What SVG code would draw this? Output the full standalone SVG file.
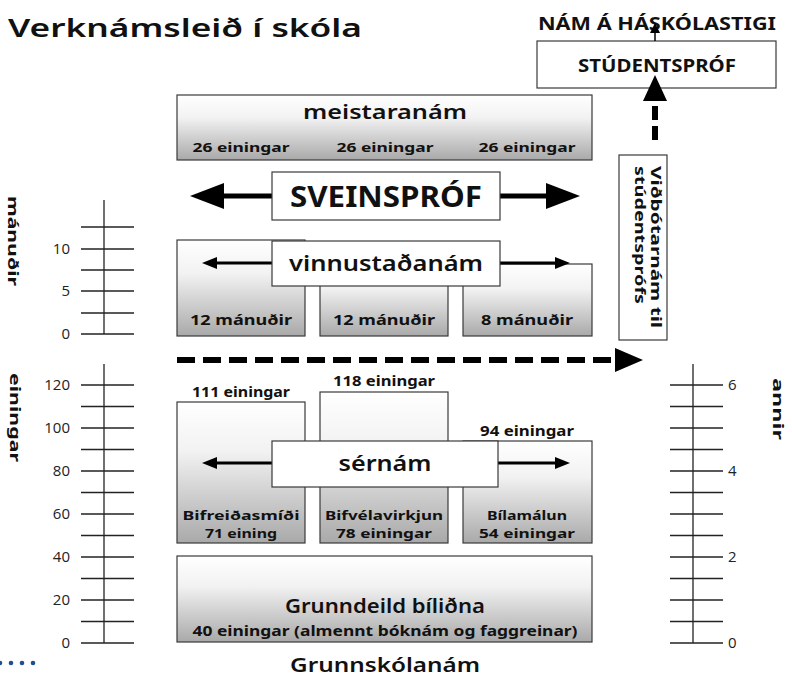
<svg xmlns="http://www.w3.org/2000/svg" width="792" height="677" viewBox="0 0 792 677">
<defs>
<linearGradient id="g" x1="0" y1="0" x2="0" y2="1">
<stop offset="0" stop-color="#ffffff"/>
<stop offset="0.35" stop-color="#f2f2f2"/>
<stop offset="1" stop-color="#a9a9a9"/>
</linearGradient>
<style>
.box{fill:url(#g);stroke:#3a3a3a;stroke-width:1.2}
.lbl{fill:#fff;stroke:#3a3a3a;stroke-width:1.2}
.t{font-family:"Noto Sans","DejaVu Sans",sans-serif;fill:#111}
.b{font-weight:bold}
.c{text-anchor:middle}
.num{font-family:"Open Sans","DejaVu Sans",sans-serif;font-size:15px;fill:#222;text-anchor:end}
.ax{stroke:#222;stroke-width:1.3;fill:none}
.tk{stroke:#222;stroke-width:1.3}
</style>
</defs>
<rect width="792" height="677" fill="#fff"/>

<text class="t" x="8" y="37" font-size="26" font-weight="600" textLength="354" lengthAdjust="spacingAndGlyphs">Verknámsleið í skóla</text>

<g id="haskoli"><text class="t b c" x="657" y="30" font-size="17" textLength="238" lengthAdjust="spacingAndGlyphs">NÁM Á HÁSKÓLASTIGI</text></g>

<g id="studentsprof">
<rect class="lbl" x="537" y="41" width="239" height="47"/>
<text class="t b c" x="657" y="72" font-size="18" textLength="158" lengthAdjust="spacingAndGlyphs">STÚDENTSPRÓF</text>
</g>

<g id="meistaranam">
<rect class="box" x="177" y="95" width="415" height="65"/>
<text class="t c" x="385" y="119" font-size="20" font-weight="600" textLength="164" lengthAdjust="spacingAndGlyphs">meistaranám</text>
<text class="t b c" x="241" y="152" font-size="13" textLength="97" lengthAdjust="spacingAndGlyphs">26 einingar</text>
<text class="t b c" x="385" y="152" font-size="13" textLength="97" lengthAdjust="spacingAndGlyphs">26 einingar</text>
<text class="t b c" x="527" y="152" font-size="13" textLength="97" lengthAdjust="spacingAndGlyphs">26 einingar</text>
</g>

<g id="vinnustadanam-boxes">
<rect class="box" x="177" y="240" width="128" height="96"/>
<rect class="box" x="320" y="262" width="128" height="74"/>
<rect class="box" x="463" y="264" width="129" height="72"/>
<text class="t b c" x="241" y="325" font-size="14" textLength="102" lengthAdjust="spacingAndGlyphs">12 mánuðir</text>
<text class="t b c" x="384" y="325" font-size="14" textLength="102" lengthAdjust="spacingAndGlyphs">12 mánuðir</text>
<text class="t b c" x="527" y="325" font-size="14" textLength="92" lengthAdjust="spacingAndGlyphs">8 mánuðir</text>
</g>

<g id="sernam-boxes">
<rect class="box" x="177" y="402" width="128" height="141"/>
<rect class="box" x="320" y="392" width="128" height="151"/>
<rect class="box" x="463" y="441" width="129" height="102"/>
<text class="t b c" x="241" y="397" font-size="14" textLength="98" lengthAdjust="spacingAndGlyphs">111 einingar</text>
<text class="t b c" x="384" y="386" font-size="14" textLength="102" lengthAdjust="spacingAndGlyphs">118 einingar</text>
<text class="t b c" x="527" y="436" font-size="14" textLength="94" lengthAdjust="spacingAndGlyphs">94 einingar</text>
<text class="t b c" x="241" y="520" font-size="13" textLength="117" lengthAdjust="spacingAndGlyphs">Bifreiðasmíði</text>
<text class="t b c" x="241" y="538" font-size="13" textLength="72" lengthAdjust="spacingAndGlyphs">71 eining</text>
<text class="t b c" x="384" y="520" font-size="13" textLength="118" lengthAdjust="spacingAndGlyphs">Bifvélavirkjun</text>
<text class="t b c" x="384" y="538" font-size="13" textLength="96" lengthAdjust="spacingAndGlyphs">78 einingar</text>
<text class="t b c" x="527" y="520" font-size="13" textLength="80" lengthAdjust="spacingAndGlyphs">Bílamálun</text>
<text class="t b c" x="527" y="538" font-size="13" textLength="96" lengthAdjust="spacingAndGlyphs">54 einingar</text>
</g>

<g id="grunndeild">
<rect class="box" x="177" y="556" width="415" height="86"/>
<text class="t c" x="385" y="613" font-size="19" font-weight="600" textLength="200" lengthAdjust="spacingAndGlyphs">Grunndeild bíliðna</text>
<text class="t b c" x="385" y="636" font-size="14" textLength="385" lengthAdjust="spacingAndGlyphs">40 einingar (almennt bóknám og faggreinar)</text>
</g>

<g id="grunnskolanam"><text class="t c" x="385" y="672" font-size="20" font-weight="600" textLength="190" lengthAdjust="spacingAndGlyphs">Grunnskólanám</text></g>

<g id="connectors">
<line x1="272" y1="196" x2="218" y2="196" stroke="#000" stroke-width="5"/>
<polygon points="190,196 224,183 224,209" fill="#000"/>
<line x1="500" y1="196" x2="552" y2="196" stroke="#000" stroke-width="5"/>
<polygon points="580,196 546,183 546,209" fill="#000"/>
<line x1="272" y1="263" x2="212" y2="263" stroke="#000" stroke-width="3"/>
<polygon points="202,263 217,257 217,269" fill="#000"/>
<line x1="500" y1="263" x2="560" y2="263" stroke="#000" stroke-width="3"/>
<polygon points="570,263 555,257 555,269" fill="#000"/>
<line x1="272" y1="463" x2="212" y2="463" stroke="#000" stroke-width="3"/>
<polygon points="202,463 217,457 217,469" fill="#000"/>
<line x1="498" y1="463" x2="560" y2="463" stroke="#000" stroke-width="3"/>
<polygon points="570,463 555,457 555,469" fill="#000"/>
<line x1="177" y1="360" x2="617" y2="360" stroke="#000" stroke-width="6" stroke-dasharray="18,8"/>
<polygon points="643,360 615,348 615,372" fill="#000"/>
<line x1="655" y1="140" x2="655" y2="100" stroke="#000" stroke-width="6" stroke-dasharray="14,6"/>
<polygon points="655,75 643,101 667,101" fill="#000"/>
<line x1="655" y1="41" x2="655" y2="30" stroke="#000" stroke-width="1.5"/>
<polygon points="655,23 650,33 660,33" fill="#000"/>
</g>

<g id="sveinsprof">
<rect class="lbl" x="272" y="172" width="228" height="48"/>
<text class="t b c" x="386" y="207" font-size="28" textLength="192" lengthAdjust="spacingAndGlyphs">SVEINSPRÓF</text>
</g>

<g id="vinnustadanam">
<rect class="lbl" x="272" y="241" width="228" height="45"/>
<text class="t c" x="386" y="271" font-size="22" font-weight="600" textLength="194" lengthAdjust="spacingAndGlyphs">vinnustaðanám</text>
</g>

<g id="sernam">
<rect class="lbl" x="272" y="441" width="226" height="46"/>
<text class="t c" x="385" y="471" font-size="22" font-weight="600" textLength="93" lengthAdjust="spacingAndGlyphs">sérnám</text>
</g>

<g id="vidbotarnam">
<rect class="lbl" x="619" y="155" width="48" height="185"/>
<text class="t b" transform="translate(651,166) rotate(90)" font-size="14" textLength="162" lengthAdjust="spacingAndGlyphs">Viðbótarnám til</text>
<text class="t b" transform="translate(635,166) rotate(90)" font-size="14" textLength="138" lengthAdjust="spacingAndGlyphs">stúdentsprófs</text>
</g>

<g id="axis-manudir">
<line class="ax" x1="104" y1="200" x2="104" y2="334"/>
<g class="tk">
<line x1="81" y1="227" x2="134" y2="227"/>
<line x1="81" y1="249" x2="134" y2="249"/>
<line x1="81" y1="270" x2="134" y2="270"/>
<line x1="81" y1="291" x2="134" y2="291"/>
<line x1="81" y1="313" x2="134" y2="313"/>
<line x1="81" y1="334" x2="134" y2="334"/>
</g>
<text class="num" x="70" y="254">10</text>
<text class="num" x="70" y="296">5</text>
<text class="num" x="70" y="339">0</text>
<text class="t b" transform="translate(8,196) rotate(90)" font-size="15" textLength="90" lengthAdjust="spacingAndGlyphs">mánuðir</text>
</g>

<g id="axis-einingar">
<line class="ax" x1="104" y1="364" x2="104" y2="643"/>
<g class="tk">
<line x1="81" y1="385" x2="134" y2="385"/>
<line x1="81" y1="406.5" x2="134" y2="406.5"/>
<line x1="81" y1="428" x2="134" y2="428"/>
<line x1="81" y1="449.5" x2="134" y2="449.5"/>
<line x1="81" y1="471" x2="134" y2="471"/>
<line x1="81" y1="492.5" x2="134" y2="492.5"/>
<line x1="81" y1="514" x2="134" y2="514"/>
<line x1="81" y1="535.5" x2="134" y2="535.5"/>
<line x1="81" y1="557" x2="134" y2="557"/>
<line x1="81" y1="578.5" x2="134" y2="578.5"/>
<line x1="81" y1="600" x2="134" y2="600"/>
<line x1="81" y1="621.5" x2="134" y2="621.5"/>
<line x1="81" y1="643" x2="134" y2="643"/>
</g>
<text class="num" x="70" y="390">120</text>
<text class="num" x="70" y="433">100</text>
<text class="num" x="70" y="476">80</text>
<text class="num" x="70" y="519">60</text>
<text class="num" x="70" y="562">40</text>
<text class="num" x="70" y="605">20</text>
<text class="num" x="70" y="648">0</text>
<text class="t b" transform="translate(10,373) rotate(90)" font-size="15" textLength="89" lengthAdjust="spacingAndGlyphs">einingar</text>
</g>

<g id="axis-annir">
<line class="ax" x1="693" y1="364" x2="693" y2="643"/>
<g class="tk">
<line x1="670" y1="385" x2="723" y2="385"/>
<line x1="670" y1="406.5" x2="723" y2="406.5"/>
<line x1="670" y1="428" x2="723" y2="428"/>
<line x1="670" y1="449.5" x2="723" y2="449.5"/>
<line x1="670" y1="471" x2="723" y2="471"/>
<line x1="670" y1="492.5" x2="723" y2="492.5"/>
<line x1="670" y1="514" x2="723" y2="514"/>
<line x1="670" y1="535.5" x2="723" y2="535.5"/>
<line x1="670" y1="557" x2="723" y2="557"/>
<line x1="670" y1="578.5" x2="723" y2="578.5"/>
<line x1="670" y1="600" x2="723" y2="600"/>
<line x1="670" y1="621.5" x2="723" y2="621.5"/>
<line x1="670" y1="643" x2="723" y2="643"/>
</g>
<text class="num" x="728" y="390" style="text-anchor:start">6</text>
<text class="num" x="728" y="476" style="text-anchor:start">4</text>
<text class="num" x="728" y="562" style="text-anchor:start">2</text>
<text class="num" x="728" y="648" style="text-anchor:start">0</text>
<text class="t b" transform="translate(773,378) rotate(90)" font-size="15" textLength="62" lengthAdjust="spacingAndGlyphs">annir</text>
</g>

<g id="dots" fill="#1d4f91">
<circle cx="0" cy="663" r="2.3"/>
<circle cx="11" cy="663" r="2.3"/>
<circle cx="22" cy="663" r="2.3"/>
<circle cx="33" cy="663" r="2.3"/>
</g>
</svg>
